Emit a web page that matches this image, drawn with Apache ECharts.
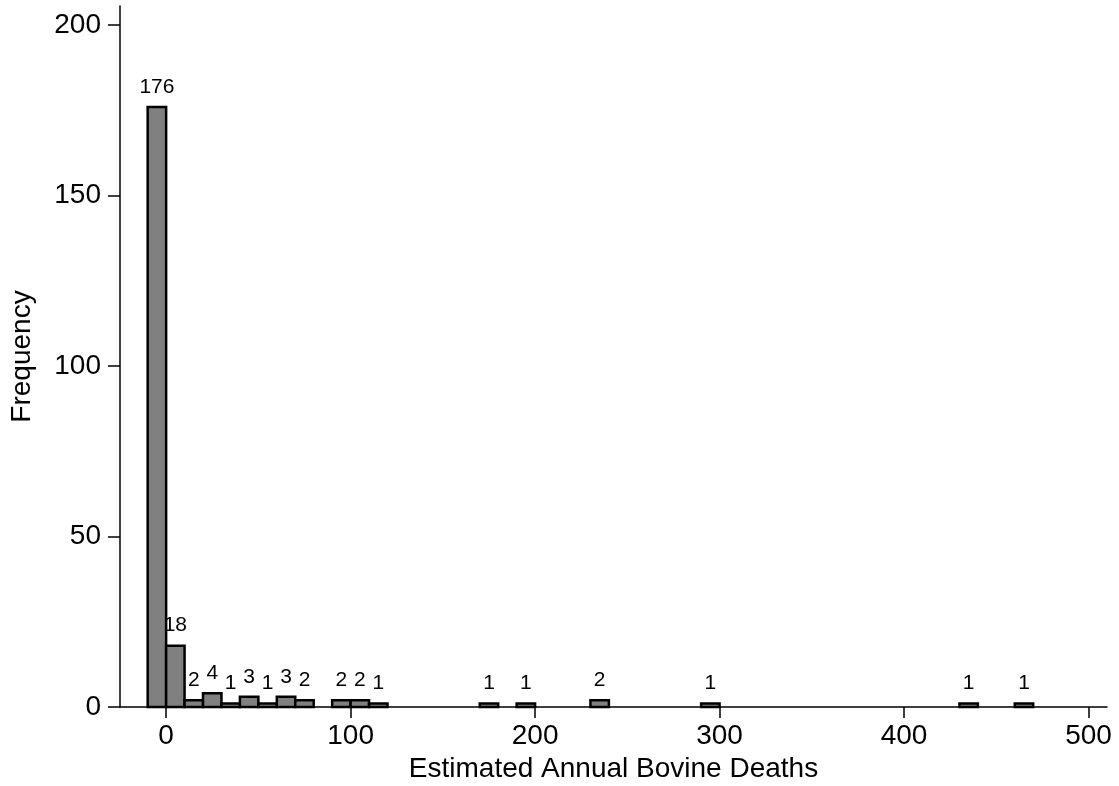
<!DOCTYPE html>
<html>
<head>
<meta charset="utf-8">
<script src="https://cdn.jsdelivr.net/npm/echarts@6/dist/echarts.min.js"></script>
<style>
  html, body { margin: 0; padding: 0; background: #fff; }
  #chart { width: 1119px; height: 786px; }
</style>
</head>
<body>
<div id="chart"></div>
<script>
// histogram bins (left edge of each non-empty bin) and their counts
const binWidth = 10;
const binLeft = [-10, 0, 10, 20, 30, 40, 50, 60, 70, 90, 100, 110, 170, 190, 230, 290, 430, 460];
const counts = [176, 18, 2, 4, 1, 3, 1, 3, 2, 2, 2, 1, 1, 1, 2, 1, 1, 1];
const xTicks = [0, 100, 200, 300, 400, 500];
const yTicks = [0, 50, 100, 150, 200];

const font = 'Liberation Sans';

let chartDom = document.getElementById('chart');
let myChart = echarts.init(chartDom);
let option;

option = {
  backgroundColor: '#fff',
  animation: false,
  grid: {
    left: 120,
    right: 12,
    top: 6,
    bottom: 79,
    containLabel: false,
    outerBoundsMode: 'none',
  },
  xAxis: {
    type: 'value',
    min: -25,
    max: 510,
    name: 'Estimated Annual Bovine Deaths',
    nameLocation: 'middle',
    nameGap: 48,
    nameTextStyle: { color: '#000', fontFamily: font, fontSize: 28 },
    axisLine: { show: true, onZero: false, lineStyle: { color: '#000', width: 1.5 } },
    axisTick: {
      show: true,
      inside: false,
      length: 11,
      customValues: xTicks,
      lineStyle: { color: '#000', width: 1.5 },
    },
    axisLabel: {
      customValues: xTicks,
      color: '#000',
      fontFamily: font,
      fontSize: 28,
      margin: 15,
    },
    splitLine: { show: false },
  },
  yAxis: {
    type: 'value',
    min: 0,
    max: 205.6,
    name: 'Frequency',
    nameLocation: 'middle',
    nameGap: 84,
    nameTextStyle: { color: '#000', fontFamily: font, fontSize: 28 },
    axisLine: { show: true, onZero: false, lineStyle: { color: '#000', width: 1.5 } },
    axisTick: {
      show: true,
      inside: false,
      length: 12,
      customValues: yTicks,
      lineStyle: { color: '#000', width: 1.5 },
    },
    axisLabel: {
      customValues: yTicks,
      color: '#000',
      fontFamily: font,
      fontSize: 28,
      margin: 19,
    },
    splitLine: { show: false },
  },
  series: [
    {
      type: 'custom',
      clip: false,
      data: binLeft.map((x, i) => [x, x + binWidth, counts[i]]),
      renderItem: function (params, api) {
        const p0 = api.coord([api.value(0), 0]);
        const p1 = api.coord([api.value(1), api.value(2)]);
        return {
          type: 'group',
          children: [
            {
              type: 'rect',
              shape: {
                x: p0[0],
                y: p1[1],
                width: p1[0] - p0[0],
                height: p0[1] - p1[1],
              },
              style: { fill: '#808080', stroke: '#000', lineWidth: 2.5 },
            },
            {
              type: 'text',
              style: {
                text: String(api.value(2)),
                x: (p0[0] + p1[0]) / 2,
                y: p1[1] - 20,
                align: 'center',
                verticalAlign: 'middle',
                fontFamily: font,
                fontSize: 21,
                fill: '#000',
              },
            },
          ],
        };
      },
    },
  ],
};

option && myChart.setOption(option);
</script>
</body>
</html>
